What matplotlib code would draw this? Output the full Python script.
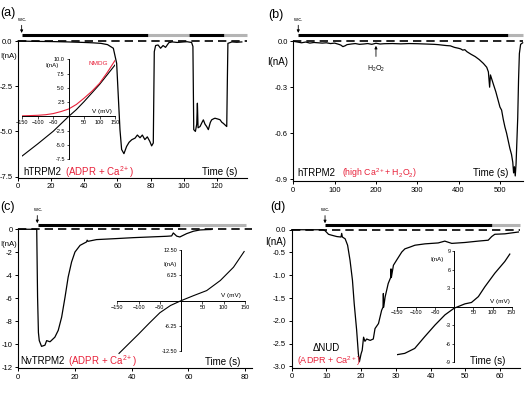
import numpy as np
import matplotlib
matplotlib.use("Agg")
import matplotlib.pyplot as plt

plt.rcParams['font.family'] = ['Liberation Sans', 'DejaVu Sans']
plt.rcParams['mathtext.fontset'] = 'custom'
plt.rcParams['mathtext.rm'] = 'Liberation Sans'
plt.rcParams['mathtext.it'] = 'Liberation Sans:italic'
plt.rcParams['mathtext.bf'] = 'Liberation Sans:bold'
plt.rcParams['axes.linewidth'] = 0.8

W, H = 530, 397
RED = '#e8213a'
GREY = '#b4b4b4'

# ---- (a) hTRPM2, ADPR + Ca2+ ----
t_a = [0, 10, 20, 30, 40, 45, 50, 54, 57.5, 59.5, 60.5, 61.5, 62.5, 63.9, 65.5, 67, 68.6, 70.6, 72,
       73.6, 75, 76.5, 78, 79.5, 80.6, 81.6, 82.2, 83, 84.5, 86, 87.5, 89, 91, 93, 96, 100, 102, 104.7,
       105.5, 106, 107, 107.8, 108.2, 108.6, 109.8, 111, 111.8, 112.8, 113.8, 114.8, 116, 116.8, 118,
       118.8, 120, 121.8, 123, 123.8, 125.9, 126.3, 126.6, 127.5, 129, 132, 135]
i_a = [0, -0.02, -0.03, -0.05, -0.08, -0.1, -0.13, -0.2, -0.4, -1.23, -3.07, -4.9, -6.0, -6.23, -5.83,
       -5.6, -5.46, -5.37, -5.2, -5.35, -5.2, -5.45, -5.3, -5.55, -5.8, -5.64, -0.59, -0.25, -0.22, -0.4,
       -0.25, -0.35, -0.09, -0.05, -0.08, -0.05, -0.04, -0.08, -0.3, -4.9, -5.0, -4.6, -3.44, -4.8, -4.73,
       -4.5, -4.36, -4.6, -4.73, -4.9, -4.5, -4.36, -4.3, -4.27, -4.3, -4.35, -4.5, -4.55, -4.73, -2.0,
       -0.13, -0.1, -0.05, -0.07, -0.05]
sol_a_edges = [2.2, 78.6, 103.4, 124.5, 138]
sol_a_names = ['Standard', 'NMDG', 'Standard', 'NMDG']
wc_a = 2.2

iv_v = [-150, -125, -100, -75, -50, -25, 0, 25, 50, 75, 100, 125, 150]
iv_a_std = [-6.9, -5.85, -4.8, -3.7, -2.6, -1.3, 0, 1.2, 2.6, 4.1, 5.6, 7.3, 9.0]
iv_a_nmdg = [0.1, 0.15, 0.2, 0.3, 0.5, 0.85, 1.3, 2.1, 3.2, 4.4, 5.8, 7.7, 9.8]

# ---- (b) hTRPM2, high Ca2+ + H2O2 ----
t_b = [0, 10, 20, 30, 40, 50, 60, 70, 80, 90, 100, 110, 115, 120, 125, 130, 140, 150, 160, 170, 180,
       190, 200, 210, 220, 240, 260, 280, 300, 320, 340, 350, 360, 370, 380, 390, 400, 405, 410, 415,
       420, 430, 440, 450, 460, 468, 472, 475, 477, 484, 490, 495, 500, 504, 508, 512, 516, 520, 524,
       528, 531, 533, 535, 537, 539, 541, 543, 545, 547, 550, 555]
i_b = [0, -0.005, -0.01, -0.005, -0.012, -0.008, -0.01, -0.012, -0.01, -0.015, -0.012, -0.02, -0.025,
       -0.035, -0.03, -0.022, -0.018, -0.015, -0.02, -0.018, -0.015, -0.02, -0.013, -0.018, -0.016,
       -0.015, -0.017, -0.015, -0.016, -0.018, -0.02, -0.022, -0.025, -0.028, -0.03, -0.04, -0.046,
       -0.05, -0.058, -0.055, -0.068, -0.085, -0.1, -0.12, -0.145, -0.17, -0.2, -0.3, -0.22, -0.28,
       -0.33, -0.38, -0.43, -0.45, -0.51, -0.56, -0.6, -0.65, -0.7, -0.74, -0.79, -0.86, -0.82, -0.88,
       -0.8, -0.65, -0.5, -0.25, -0.08, -0.02, -0.01]
sol_b_edges = [12, 520, 556]
sol_b_names = ['Standard', 'NMDG']
wc_b = 12
h2o2_t = 200

# ---- (c) NvTRPM2, ADPR + Ca2+ ----
t_c = [0, 6.5, 6.8, 7.1, 7.4, 8.2, 9.4, 10, 11.2, 12.9, 14.1, 15.3, 16.5, 17.6, 18.8, 20, 21.8, 24.1,
       24.3, 24.6, 27.6, 34.7, 40.6, 46.5, 52.4, 54.1, 54.7, 55.9, 57, 59.4, 61.8, 64.1, 66.5, 68]
i_c = [0, 0, -5.9, -9.0, -9.7, -10.2, -10.1, -9.7, -9.8, -9.4, -8.8, -7.65, -5.9, -4.16, -2.85, -1.98,
       -1.4, -1.1, -0.95, -1.05, -0.9, -0.81, -0.73, -0.67, -0.61, -0.58, -0.32, -0.6, -0.67, -0.38,
       -0.17, -0.06, -0.03, -0.02]
sol_c_edges = [7, 57, 80.5]
sol_c_names = ['Standard', 'NMDG']
wc_c = 6.7

iv_c_v = [-146, -125, -100, -88, -75, -50, -25, 0, 29, 60, 92, 123, 148]
iv_c_i = [-13.1, -10.9, -8.3, -7.0, -5.6, -3.0, -1.2, 0, 1.24, 2.5, 5.0, 8.3, 12.2]

# ---- (d) dNUD, ADPR + Ca2+ ----
t_d = [0, 9, 9.6, 10.6, 11.5, 13, 14.2, 14.4, 14.6, 15.4, 16.1, 16.8, 17.5, 18, 18.7, 19.2, 19.5, 20,
       20.3, 20.7, 21.1, 21.6, 22.6, 23.5, 24, 25, 25.9, 26.3, 26.4, 26.5, 26.9, 27.8, 28.5, 28.6, 28.7,
       29.3, 30.2, 31.7, 32.6, 34.1, 35.5, 38.4, 42.2, 44.1, 46.1, 49.9, 53.7, 56.6, 57.6, 58.5, 61.4, 65.3]
i_d = [0, 0, -0.02, -0.1, -0.12, -0.15, -0.16, -0.08, -0.16, -0.2, -0.34, -0.67, -1.11, -1.62, -2.2,
       -2.72, -2.9, -2.72, -2.65, -2.36, -2.45, -2.4, -2.43, -2.4, -2.17, -2.06, -1.77, -1.7, -1.4, -1.7,
       -1.48, -1.18, -1.05, -0.86, -1.05, -0.78, -0.67, -0.49, -0.42, -0.38, -0.34, -0.31, -0.29, -0.25,
       -0.3, -0.28, -0.25, -0.23, -0.15, -0.1, -0.09, -0.05]
sol_d_edges = [9.6, 57.6, 65.7]
sol_d_names = ['Standard', 'NMDG']
wc_d = 9.6

iv_d_v = [-148, -129, -103, -77, -50, -24, 0, 28, 45, 63, 80, 106, 132, 145]
iv_d_i = [-7.8, -7.6, -6.8, -4.9, -3.0, -1.35, -0.27, 0.43, 0.65, 1.6, 3.2, 5.4, 7.3, 8.5]


fig = plt.figure(figsize=(W / 100, H / 100), dpi=100)


def px_box(x0, x1, y_top, y_bot):
    return [x0 / W, 1 - y_bot / H, (x1 - x0) / W, (y_bot - y_top) / H]


def ftext(x, y, s, **kw):
    fig.text(x / W, 1 - y / H, s, **kw)


def trace_axes(box, xlim, ylim, xticks, yticks, fmt):
    ax = fig.add_axes(box)
    ax.set_xlim(xlim)
    ax.set_ylim(ylim)
    ax.spines[['top', 'right']].set_visible(False)
    ax.spines['left'].set_bounds(ylim[0], 0)
    ax.set_xticks(xticks)
    ax.set_yticks(yticks)
    ax.set_yticklabels([fmt.format(v) for v in yticks])
    ax.tick_params(labelsize=5.5, length=2.5, width=0.7, pad=1.5)
    ax.axhline(0, color='black', lw=1.2, ls=(0, (5, 3)), zorder=1)
    return ax


def solutions(ax, edges, names, ybar, t_wc):
    for t0, t1, name in zip(edges[:-1], edges[1:], names):
        col = 'black' if name == 'Standard' else GREY
        ax.plot([t0, t1], [ybar, ybar], color=col, lw=2.2, clip_on=False, solid_capstyle='butt')
        ax.annotate(name, xy=((t0 + t1) / 2, ybar), xytext=(0, 1.2), textcoords='offset points',
                    ha='center', va='bottom', fontsize=5, color='#222222')
    # whole-cell break-in marker
    ax.annotate('w.c.', xy=(t_wc, ybar), xytext=(0, 9.5), textcoords='offset points',
                ha='center', va='bottom', fontsize=4, annotation_clip=False,
                arrowprops=dict(arrowstyle='-|>', lw=0.6, color='black', mutation_scale=4,
                                shrinkA=0.5, shrinkB=1.5))


def iv_axes(box, ylim, yticks, fmt):
    ax = fig.add_axes(box)
    ax.patch.set_alpha(0)
    ax.set_xlim(-150, 150)
    ax.set_ylim(ylim)
    ax.spines[['top', 'right']].set_visible(False)
    ax.spines['left'].set_position(('data', 0))
    ax.spines['bottom'].set_position(('data', 0))
    ax.spines['left'].set_linewidth(0.7)
    ax.spines['bottom'].set_linewidth(0.7)
    ax.set_xticks([-150, -100, -50, 50, 100, 150])
    ax.set_yticks(yticks)
    ax.set_yticklabels([fmt.format(v) for v in yticks])
    ax.tick_params(labelsize=4, length=1.8, width=0.5, pad=1)
    return ax


# (a)
ax = trace_axes(px_box(18, 246.8, 38.3, 177.9), (0, 138), (-7.57, 0.15),
                range(0, 121, 20), [0, -2.5, -5.0, -7.5], '{:.1f}')
ax.plot(t_a, i_a, color='black', lw=0.9, clip_on=False, zorder=3)
solutions(ax, sol_a_edges, sol_a_names, 0.33, wc_a)
ins = iv_axes(px_box(22.3, 115, 59.3, 159.3), (-7.5, 10), [10, 7.5, 5, 2.5, -2.5, -5, -7.5], '{:.1f}')
ins.plot(iv_v, iv_a_std, color='black', lw=0.8)
ins.plot(iv_v, iv_a_nmdg, color=RED, lw=0.8)
ins.text(97, 9.2, 'NMDG', color=RED, fontsize=4.6, ha='center', va='center')
ins.text(-54, 9.0, 'I(nA)', fontsize=4.4, ha='center', va='center')
ins.text(108, 0.9, 'V (mV)', fontsize=4.6, ha='center', va='center')

# (b)
ax = trace_axes(px_box(293.3, 523.1, 38.2, 181.3), (0, 556), (-0.915, 0.02),
                range(0, 501, 100), [0, -0.3, -0.6, -0.9], '{:.1f}')
ax.plot(t_b, i_b, color='black', lw=0.9, clip_on=False, zorder=3)
solutions(ax, sol_b_edges, sol_b_names, 0.041, wc_b)
ax.annotate('H$_2$O$_2$', xy=(h2o2_t, -0.03), xytext=(h2o2_t, -0.178), ha='center', va='center',
            fontsize=5, arrowprops=dict(arrowstyle='-|>', lw=0.6, color='black', mutation_scale=4,
                                        shrinkA=3, shrinkB=0))

# (c)
ax = trace_axes(px_box(18.3, 252.1, 226.4, 368.4), (0, 82.5), (-12.12, 0.25),
                range(0, 81, 20), list(range(0, -13, -2)), '{:d}')
ax.plot(t_c, i_c, color='black', lw=0.9, clip_on=False, zorder=3)
solutions(ax, sol_c_edges, sol_c_names, 0.35, wc_c)
ins = iv_axes(px_box(117.3, 245, 250.3, 351), (-12.5, 12.5), [12.5, 6.25, -6.25, -12.5], '{:.2f}')
ins.plot(iv_c_v, iv_c_i, color='black', lw=0.8, clip_on=False)
ins.text(-27, 9.0, 'I(nA)', fontsize=4.4, ha='center', va='center')
ins.text(117, 1.3, 'V (mV)', fontsize=4.6, ha='center', va='center')

# (d)
ax = trace_axes(px_box(291.7, 519.8, 227, 367.7), (0, 65.7), (-3.03, 0.06),
                range(0, 61, 10), [0, -0.5, -1.0, -1.5, -2.0, -2.5, -3.0], '{:.1f}')
ax.plot(t_d, i_d, color='black', lw=0.9, clip_on=False, zorder=3)
solutions(ax, sol_d_edges, sol_d_names, 0.097, wc_d)
ins = iv_axes(px_box(396.7, 511.7, 251, 362), (-9, 9), [9, 6, 3, -3, -6, -9], '{:d}')
ins.plot(iv_d_v, iv_d_i, color='black', lw=0.9)
ins.text(-46, 7.6, 'I(nA)', fontsize=4.4, ha='center', va='center')
ins.text(119, 0.8, 'V (mV)', fontsize=4.6, ha='center', va='center')

# panel letters and labels
ftext(0.5, 13, '(a)', fontsize=9, ha='left', va='center')
ftext(268, 15, '(b)', fontsize=9, ha='left', va='center')
ftext(0.5, 207, '(c)', fontsize=9, ha='left', va='center')
ftext(270, 207, '(d)', fontsize=9, ha='left', va='center')
ftext(0.5, 57, 'I(nA)', fontsize=5.6, ha='left', va='center')
ftext(267, 62, 'I(nA)', fontsize=7, ha='left', va='center')
ftext(0.5, 244, 'I(nA)', fontsize=5.6, ha='left', va='center')
ftext(265, 242, 'I(nA)', fontsize=7, ha='left', va='center')

ftext(23, 172, 'hTRPM2', fontsize=7, va='center')
ftext(65, 172, '(ADPR + Ca$^{2+}$)', fontsize=7, color=RED, va='center')
ftext(202, 172, 'Time (s)', fontsize=7, va='center')
ftext(297, 173, 'hTRPM2', fontsize=7, va='center')
ftext(342, 173, '(high Ca$^{2+}$+ H$_2$O$_2$)', fontsize=6.3, color=RED, va='center')
ftext(473, 173, 'Time (s)', fontsize=7, va='center')
ftext(20, 361, 'NvTRPM2', fontsize=7, va='center')
ftext(68, 361, '(ADPR + Ca$^{2+}$)', fontsize=7, color=RED, va='center')
ftext(205, 362, 'Time (s)', fontsize=7, va='center')
ftext(313, 348, '\u0394NUD', fontsize=7, va='center')
ftext(297, 361, '(ADPR + Ca$^{2+}$)', fontsize=6.5, color=RED, va='center')
ftext(470, 361, 'Time (s)', fontsize=7, va='center')

fig.savefig('out.png', dpi=100)
